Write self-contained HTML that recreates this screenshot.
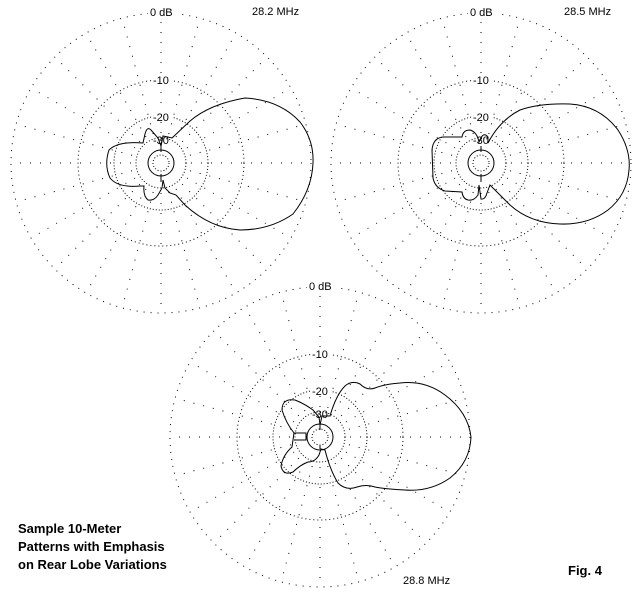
<!DOCTYPE html>
<html><head><style>
body{margin:0;background:#fff;}
svg{display:block;}
text{font-family:"Liberation Sans",Arial,sans-serif;font-size:11px;fill:#000;}
.b{font-weight:bold;font-size:13px;}
</style></head><body>
<svg width="640" height="600" viewBox="0 0 640 600" xmlns="http://www.w3.org/2000/svg">
<defs>
<g id="grid" fill="none" stroke="#000" stroke-width="1">
<circle r="150" stroke-dasharray="1 6"/><circle r="83" stroke-dasharray="1 3"/><circle r="47" stroke-dasharray="1 2"/><circle r="25" stroke-dasharray="1 2"/><circle r="8" stroke-dasharray="1 2"/>
<g id="sp" stroke-dasharray="1 9">
<line x1="30" y1="0" x2="150" y2="0"/>
<line x1="30" y1="0" x2="150" y2="0" transform="rotate(15)"/>
<line x1="30" y1="0" x2="150" y2="0" transform="rotate(30)"/>
<line x1="30" y1="0" x2="150" y2="0" transform="rotate(45)"/>
<line x1="30" y1="0" x2="150" y2="0" transform="rotate(60)"/>
<line x1="30" y1="0" x2="150" y2="0" transform="rotate(75)"/>
</g>
<use href="#sp" transform="rotate(90)"/>
<use href="#sp" transform="rotate(180)"/>
<use href="#sp" transform="rotate(270)"/>
</g>
</defs>

<g transform="translate(161,163)"><use href="#grid"/><circle r="13" fill="none" stroke="#000"/></g>
<g transform="translate(481,163)"><use href="#grid"/><circle r="13" fill="none" stroke="#000"/></g>
<g transform="translate(320,437)"><use href="#grid"/><circle r="13" fill="none" stroke="#000"/></g>

<rect x="148" y="5" width="30" height="13" fill="#fff"/><text x="150" y="16">0 dB</text>
<text x="252" y="15">28.2 MHz</text>
<rect x="152" y="73" width="20" height="12" fill="#fff"/><text x="153" y="84">-10</text>
<rect x="152" y="110" width="20" height="12" fill="#fff"/><text x="153" y="121">-20</text>
<text x="153" y="144">-30</text>

<rect x="468" y="5" width="30" height="13" fill="#fff"/><text x="470" y="16">0 dB</text>
<text x="564" y="15">28.5 MHz</text>
<rect x="472" y="73" width="20" height="12" fill="#fff"/><text x="473" y="84">-10</text>
<rect x="472" y="110" width="20" height="12" fill="#fff"/><text x="473" y="121">-20</text>
<text x="473" y="144">-30</text>

<rect x="307" y="279" width="30" height="13" fill="#fff"/><text x="309" y="290">0 dB</text>
<text x="403" y="584">28.8 MHz</text>
<rect x="311" y="347" width="20" height="12" fill="#fff"/><text x="312" y="358">-10</text>
<rect x="311" y="384" width="20" height="12" fill="#fff"/><text x="312" y="395">-20</text>
<text x="312" y="418">-30</text>

<g fill="none" stroke="#000" stroke-width="1">
<path d="M172,138 L190,121 Q210,104 245,98 Q280,100 300,122 Q314,140 313,163 Q312,190 293,214 Q270,230 240,230 Q210,228 185,205 L176,195 L170,193 L165,188 L163,180 L162,188 L158,195 Q154,201 148,200 Q143,196 144,186 L140,186 Q118,188 110,178 Q104,165 109,150 Q118,141 143,143 L145,134 Q147,126 151,130 L158,138 L161,146 L163,136 L168,137 Z"/>
<path d="M161,146 L161,152 M161,174 L161,182"/>
<path d="M488,143 Q500,120 520,110 Q540,103 570,104 Q600,106 618,130 Q631,150 629,170 Q627,195 608,210 Q588,225 560,224 Q530,223 510,205 L490,185 L487,193 Q485,200 481,199 L479,185 L478,195 Q474,201 468,200 Q463,199 462,192 L445,191 Q435,188 433,178 L432,150 Q433,138 443,137 L462,137 Q463,130 470,130 Q477,132 479,142 L481,138 Q484,132 488,137 Z"/>
<path d="M481,146 L481,152 M481,174 L481,182"/>
<path d="M330,416 Q336,395 345,386 Q352,380 360,384 Q367,391 375,388 Q385,384 400,383 Q425,380 445,395 Q468,412 471,437 Q470,462 450,478 Q430,492 405,490 Q385,489 375,487 Q366,484 357,487 Q346,491 338,483 Q330,470 325,450 L321,449 L319,455 Q315,462 308,462 Q300,465 293,472 Q283,476 281,466 Q283,455 292,447 L293,440 L294,433 Q286,423 282,410 Q282,398 295,400 Q305,404 313,410 L319,417 L320,425 L322,416 Z"/>
<path d="M294,433 L306,433 L306,440 L294,440 M320,425 L320,430 M320,445 L320,449"/>
</g>

<text class="b" x="18" y="533">Sample 10-Meter</text>
<text class="b" x="18" y="551">Patterns with Emphasis</text>
<text class="b" x="18" y="569">on Rear Lobe Variations</text>
<text class="b" x="568" y="575">Fig. 4</text>
</svg>
</body></html>
